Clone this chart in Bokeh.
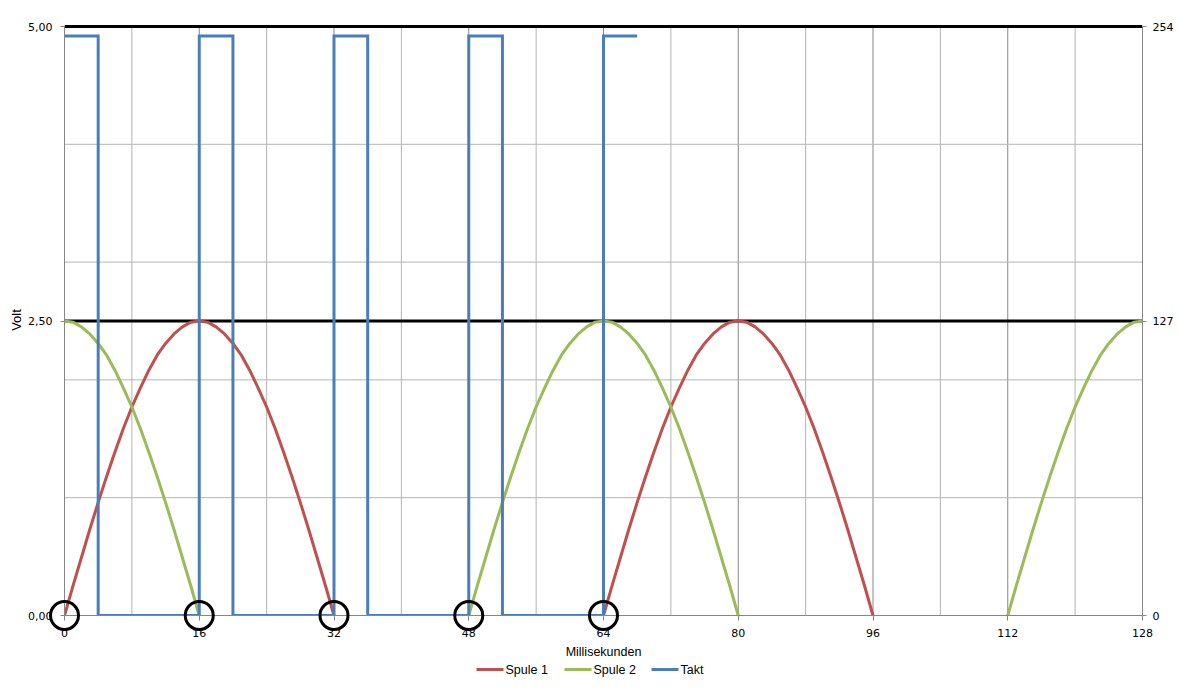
from bokeh.plotting import figure
from bokeh.models import Range1d, LinearAxis, FixedTicker
from bokeh.core.properties import value
from bokeh.embed import file_html
from bokeh.resources import INLINE

nan = float("nan")

# ---------------- data ----------------
x_ticks = [0, 16, 32, 48, 64, 80, 96, 112, 128]
y_left_ticks = [0, 2.5, 5]
y_left_labels = {0: "0,00", 2.5: "2,50", 5: "5,00"}
y_right_ticks = [0, 127, 254]
h_grid = [1, 2, 3, 4]          # light horizontal gridlines (Volt)
black_lines = [127, 254]        # secondary-axis gridlines (raw units)

ms_spule1 = list(range(0, 33)) + [nan] + list(range(64, 97))
spule1 = [0.00, 0.25, 0.49, 0.73, 0.96, 1.18, 1.39, 1.59, 1.77, 1.93, 2.08, 2.21, 2.31, 2.39, 2.45, 2.49, 2.50,
          2.49, 2.45, 2.39, 2.31, 2.21, 2.08, 1.93, 1.77, 1.59, 1.39, 1.18, 0.96, 0.73, 0.49, 0.25, 0.00,
          nan,
          0.00, 0.25, 0.49, 0.73, 0.96, 1.18, 1.39, 1.59, 1.77, 1.93, 2.08, 2.21, 2.31, 2.39, 2.45, 2.49, 2.50,
          2.49, 2.45, 2.39, 2.31, 2.21, 2.08, 1.93, 1.77, 1.59, 1.39, 1.18, 0.96, 0.73, 0.49, 0.25, 0.00]

ms_spule2 = list(range(0, 17)) + [nan] + list(range(48, 81)) + [nan] + list(range(112, 129))
spule2 = [2.50, 2.49, 2.45, 2.39, 2.31, 2.21, 2.08, 1.93, 1.77, 1.59, 1.39, 1.18, 0.96, 0.73, 0.49, 0.25, 0.00,
          nan,
          0.00, 0.25, 0.49, 0.73, 0.96, 1.18, 1.39, 1.59, 1.77, 1.93, 2.08, 2.21, 2.31, 2.39, 2.45, 2.49, 2.50,
          2.49, 2.45, 2.39, 2.31, 2.21, 2.08, 1.93, 1.77, 1.59, 1.39, 1.18, 0.96, 0.73, 0.49, 0.25, 0.00,
          nan,
          0.00, 0.25, 0.49, 0.73, 0.96, 1.18, 1.39, 1.59, 1.77, 1.93, 2.08, 2.21, 2.31, 2.39, 2.45, 2.49, 2.50]

takt_ms = [0, 4, 4, 16, 16, 20, 20, 32, 32, 36, 36, 48, 48, 52, 52, 64, 64, 68]
takt = [4.92, 4.92, 0, 0, 4.92, 4.92, 0, 0, 4.92, 4.92, 0, 0, 4.92, 4.92, 0, 0, 4.92, 4.92]

marker_ms = [0, 16, 32, 48, 64]
marker_v = [0, 0, 0, 0, 0]

legend_labels = ["Spule 1", "Spule 2", "Takt"]

# ---------------- layout constants ----------------
X_MAX, Y_MAX, RAW_MAX = 128, 5, 254
PLOT_W, PLOT_H = 1078, 589
PX_MS = PLOT_W / X_MAX
PX_V = PLOT_H / Y_MAX
EXT_T = 2
RAW_PER_V = RAW_MAX / Y_MAX
FRAME_LEFT, FRAME_ZERO_Y = 64, 615        # screen position of (0, 0)

RED, GREEN, BLUE = "#C0504D", "#9BBB59", "#4A7EBB"
legend_colors = [RED, GREEN, BLUE]
LEG_SX = [476, 564, 651]                   # legend glyph left edges (screen px)
LEG_GLYPH_W, LEG_STANDOFF, LEG_SY = 27, 2, 669
GRID_LIGHT, GRID_DARK = "#B4B4B4", "#868686"
TICK_FONT = "DejaVu Sans"
TEXT_FONT = "Liberation Sans"

y1 = Y_MAX + EXT_T / PX_V
p = figure(width=1178, height=691,
           min_border_left=64, min_border_right=36, min_border_top=24, min_border_bottom=76,
           x_range=Range1d(0, X_MAX), y_range=Range1d(0, y1),
           output_backend="svg", toolbar_location=None,
           outline_line_color=None, background_fill_color="white", border_fill_color="white")
p.extra_y_ranges = {"raw": Range1d(0, y1 * RAW_PER_V)}
p.xgrid.visible = False
p.ygrid.visible = False

# axes
xa = p.xaxis[0]
xa.bounds = (0, X_MAX)
xa.ticker = FixedTicker(ticks=x_ticks)
xa.axis_label = "Millisekunden"
ya = p.yaxis[0]
ya.bounds = (0, Y_MAX)
ya.ticker = FixedTicker(ticks=y_left_ticks)
ya.major_label_overrides = y_left_labels
ya.axis_label = "Volt"
ra = LinearAxis(y_range_name="raw", bounds=(0, RAW_MAX),
                ticker=FixedTicker(ticks=y_right_ticks))
p.add_layout(ra, "right")

for ax in (xa, ya, ra):
    ax.axis_line_color = GRID_DARK
    ax.axis_line_width = 1
    ax.major_tick_line_color = GRID_DARK
    ax.major_tick_in = 0
    ax.major_tick_out = 4
    ax.minor_tick_line_color = None
    ax.major_label_text_font = TICK_FONT
    ax.major_label_text_font_size = "11px"
    ax.major_label_text_color = "black"
    ax.axis_label_text_font = TEXT_FONT
    ax.axis_label_text_font_size = "12.5px"
    ax.axis_label_text_font_style = "normal"
    ax.axis_label_text_color = "black"
xa.major_tick_out = 5
xa.major_label_standoff = 8
xa.axis_label_standoff = 5
ya.major_label_standoff = 8
ya.axis_label_standoff = 1
ya.axis_label_text_font_size = "13px"
ra.major_label_standoff = 6

# gridlines
minor_x = [t + 8 for t in x_ticks[:-1]]
major_x = x_ticks[1:-1]
p.segment(x0=minor_x, y0=[0] * len(minor_x), x1=minor_x, y1=[Y_MAX] * len(minor_x),
          line_color=GRID_LIGHT, line_width=1)
p.segment(x0=major_x, y0=[0] * len(major_x), x1=major_x, y1=[Y_MAX] * len(major_x),
          line_color=GRID_DARK, line_width=1)
p.segment(x0=[0] * len(h_grid), y0=h_grid, x1=[X_MAX] * len(h_grid), y1=h_grid,
          line_color=GRID_LIGHT, line_width=1)
p.segment(x0=[0] * len(black_lines), y0=black_lines, x1=[X_MAX] * len(black_lines), y1=black_lines,
          line_color="black", line_width=3, y_range_name="raw")

# series
r1 = p.line(ms_spule1, spule1, line_color=RED, line_width=3, line_join="round")
r2 = p.line(ms_spule2, spule2, line_color=GREEN, line_width=3, line_join="round")
r3 = p.line(takt_ms, takt, line_color=BLUE, line_width=3, line_join="miter")

# circles (overlay level so they are not cut at the axes)
p.scatter(marker_ms, marker_v, marker="circle", size=28, fill_color=None,
          line_color="black", line_width=3, level="overlay")

# legend below the axis title (drawn at overlay level so it is not clipped)
leg_y = (FRAME_ZERO_Y - LEG_SY) / PX_V
leg_x0 = [(sx - FRAME_LEFT) / PX_MS for sx in LEG_SX]
leg_x1 = [(sx + LEG_GLYPH_W - FRAME_LEFT) / PX_MS for sx in LEG_SX]
leg_tx = [(sx + LEG_GLYPH_W + LEG_STANDOFF - FRAME_LEFT) / PX_MS for sx in LEG_SX]
p.segment(x0=leg_x0, y0=[leg_y] * 3, x1=leg_x1, y1=[leg_y] * 3,
          line_color=legend_colors, line_width=3, level="overlay")
p.text(x=leg_tx, y=[leg_y] * 3, text=legend_labels, level="overlay",
       text_font=value(TEXT_FONT), text_font_size=value("12.5px"),
       text_color="black", text_align="left", text_baseline="middle")

open("out.html", "w").write(file_html(p, INLINE))
